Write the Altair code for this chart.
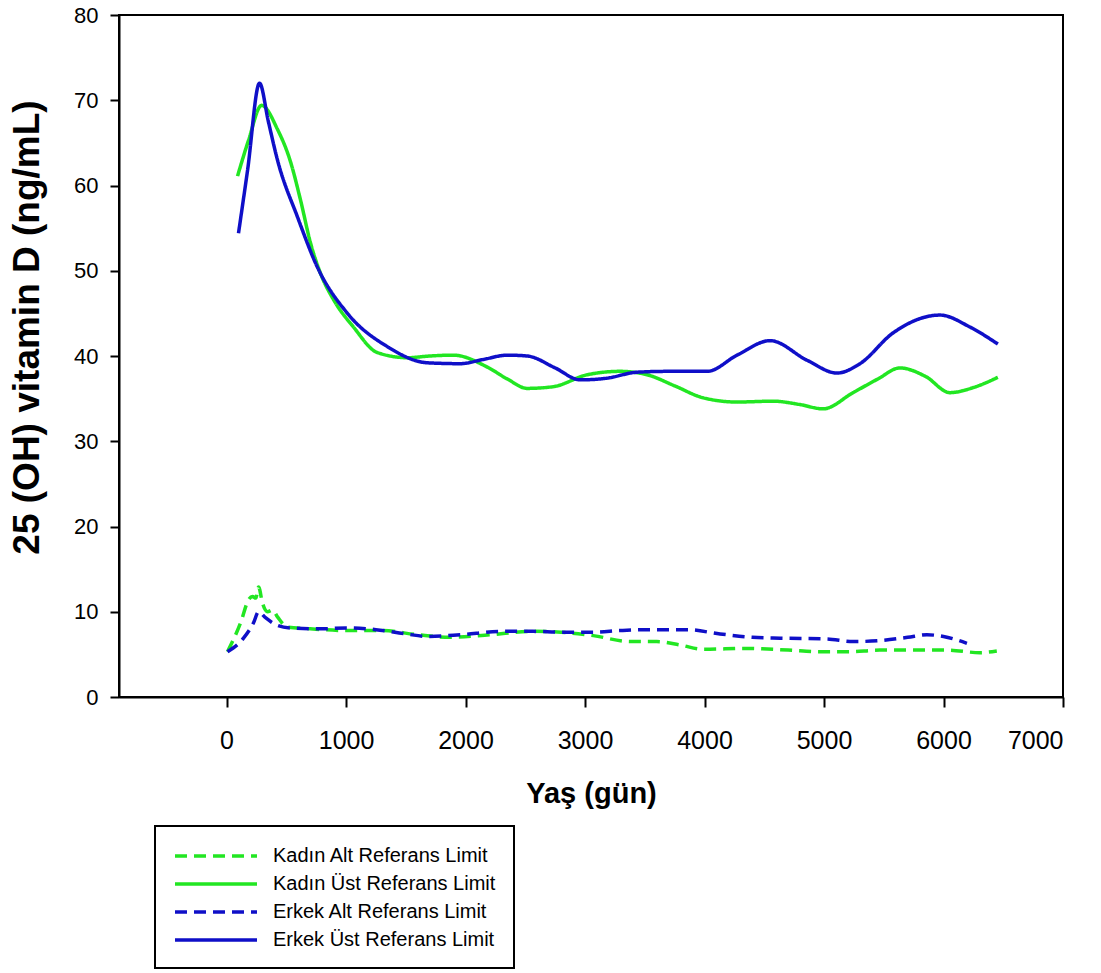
import altair as alt
import pandas as pd

series_names = ["Kadın Alt Referans Limit", "Kadın Üst Referans Limit",
                "Erkek Alt Referans Limit", "Erkek Üst Referans Limit"]
series_colors = ["#22e622", "#22e622", "#0f0fc8", "#0f0fc8"]

kadin_alt_x = [8, 120, 184, 217, 245, 268, 301, 343, 385, 426, 510, 700, 1000, 1300,
               1600, 1873, 2200, 2567, 2800, 3069, 3378, 3600, 3796, 3988, 4356,
               4700, 4967, 5200, 5468, 6028, 6304, 6446]
kadin_alt_y = [5.3, 8.8, 11.4, 11.8, 11.6, 12.9, 11.0, 10.0, 10.2, 9.4, 8.2, 8.0, 7.8, 7.8,
               7.3, 7.0, 7.3, 7.7, 7.6, 7.2, 6.5, 6.5, 6.1, 5.6, 5.7,
               5.5, 5.3, 5.3, 5.5, 5.5, 5.2, 5.4]

kadin_ust_x = [92, 184, 293, 426, 535, 619, 702, 786, 900, 1062, 1262, 1513, 1700, 1898,
               2182, 2350, 2517, 2734, 3018, 3294, 3520, 3750, 3988, 4272, 4574,
               4800, 4992, 5243, 5450, 5635, 5850, 6054, 6250, 6455]
kadin_ust_y = [61.1, 65.3, 69.4, 66.6, 62.8, 58.3, 53.3, 49.7, 46.5, 43.4, 40.4, 39.8, 40.0, 40.1,
               38.7, 37.3, 36.2, 36.4, 37.8, 38.2, 37.8, 36.5, 35.1, 34.6, 34.7,
               34.3, 33.8, 35.7, 37.3, 38.6, 37.6, 35.7, 36.3, 37.5]

erkek_alt_x = [8, 142, 226, 268, 326, 426, 535, 800, 1003, 1250, 1500, 1681, 1957, 2300,
               2567, 2800, 3069, 3300, 3520, 3855, 4130, 4400, 4632, 5025, 5243,
               5450, 5700, 5861, 6000, 6196]
erkek_alt_y = [5.3, 6.9, 8.7, 10.0, 9.3, 8.4, 8.1, 8.0, 8.1, 7.9, 7.4, 7.1, 7.3, 7.7,
               7.7, 7.6, 7.6, 7.8, 7.9, 7.9, 7.4, 7.0, 6.9, 6.8, 6.5,
               6.6, 7.0, 7.3, 7.1, 6.3]

erkek_ust_x = [100, 176, 276, 350, 426, 594, 761, 1012, 1346, 1681, 1957, 2150, 2349, 2517,
               2750, 2960, 3184, 3436, 3700, 4022, 4272, 4549, 4858, 5109, 5301,
               5577, 5970, 6221, 6455]
erkek_ust_y = [54.4, 61.8, 72.0, 67.5, 63.0, 56.3, 50.4, 45.0, 41.1, 39.2, 39.1, 39.6, 40.1, 40.0,
               38.6, 37.2, 37.4, 38.1, 38.2, 38.2, 40.1, 41.8, 39.5, 38.0, 39.1,
               42.7, 44.8, 43.4, 41.4]

x_ticks = [0, 1000, 2000, 3000, 4000, 5000, 6000, 7000]
y_ticks = [0, 10, 20, 30, 40, 50, 60, 70, 80]

frames = []
for name, xs, ys in [(series_names[0], kadin_alt_x, kadin_alt_y),
                     (series_names[1], kadin_ust_x, kadin_ust_y),
                     (series_names[2], erkek_alt_x, erkek_alt_y),
                     (series_names[3], erkek_ust_x, erkek_ust_y)]:
    frames.append(pd.DataFrame({"x": xs, "y": ys, "series": name, "idx": range(len(xs))}))
df = pd.concat(frames, ignore_index=True)

FONT = "Liberation Sans"

chart = alt.Chart(df).mark_line(strokeWidth=3.5, interpolate="monotone").encode(
    x=alt.X("x:Q",
            scale=alt.Scale(domain=[-900, 7000], nice=False, zero=False),
            axis=alt.Axis(values=x_ticks, format="d", title="Yaş (gün)", grid=False,
                          tickSize=10, labelPadding=21, titlePadding=26,
                          labelFontSize=25, titleFontSize=29)),
    y=alt.Y("y:Q",
            scale=alt.Scale(domain=[0, 80], nice=False),
            axis=alt.Axis(values=y_ticks, title="25 (OH) vitamin D (ng/mL)", grid=False,
                          tickSize=9, labelPadding=12,
                          titleX=-92, titleY=312, titleBaseline="middle",
                          labelFontSize=22, titleFontSize=37)),
    color=alt.Color("series:N", title=None,
                    scale=alt.Scale(domain=series_names, range=series_colors),
                    legend=alt.Legend(orient="none", legendX=36, legendY=811,
                                      symbolType="M-1,0H7.2", symbolSize=400,
                                      symbolStrokeWidth=3.5, labelFontSize=20,
                                      labelOffset=76, rowPadding=6, padding=18,
                                      strokeColor="black", labelLimit=400)),
    strokeDash=alt.StrokeDash("series:N", title=None,
                              scale=alt.Scale(domain=series_names,
                                              range=[[12, 7], [1, 0], [12, 7], [1, 0]])),
    order="idx:Q",
).properties(
    width=944, height=682,
    autosize=alt.AutoSizeParams(type="none"),
    padding={"left": 119, "top": 15, "right": 38, "bottom": 276},
).configure_view(
    stroke="black", strokeWidth=2
).configure_axis(
    domainColor="black", domainWidth=2, tickColor="black", tickWidth=2,
    labelColor="black", titleColor="black", labelFont=FONT, titleFont=FONT,
    titleFontWeight="bold"
).configure_legend(
    labelFont=FONT, labelColor="black", strokeWidth=2
)

chart.save("out.html", embed_options={"renderer": "svg", "actions": False})
